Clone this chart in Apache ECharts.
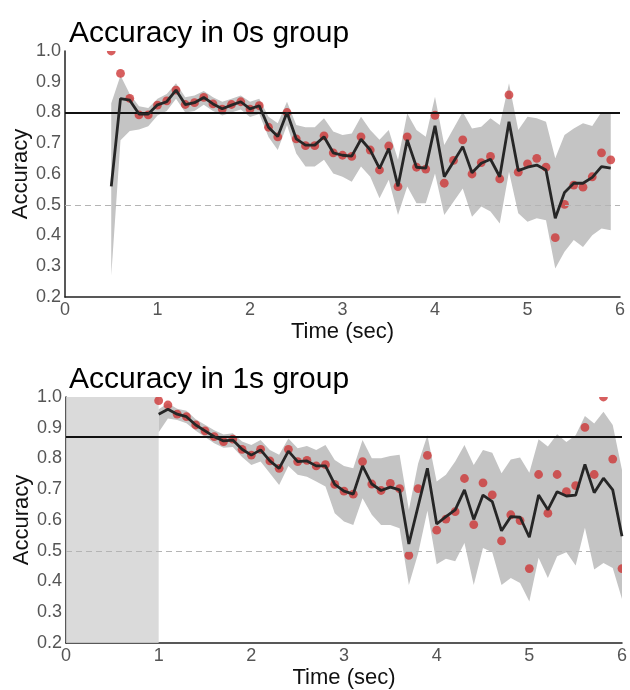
<!DOCTYPE html>
<html>
<head>
<meta charset="utf-8">
<script src="https://cdn.jsdelivr.net/npm/echarts@6/dist/echarts.min.js"></script>
<style>
html,body{margin:0;padding:0;background:#fff;}
#chart{width:630px;height:690px;}
</style>
</head>
<body>
<div id="chart"></div>
<script>
// ---------- Data: 0s group ----------
var times0 = [0.5,0.6,0.7,0.8,0.9,
  1.0,1.1,1.2,1.3,1.4,1.5,1.6,1.7,1.8,1.9,
  2.0,2.1,2.2,2.3,2.4,2.5,2.6,2.7,2.8,2.9,
  3.0,3.1,3.2,3.3,3.4,3.5,3.6,3.7,3.8,3.9,
  4.0,4.1,4.2,4.3,4.4,4.5,4.6,4.7,4.8,4.9,
  5.0,5.1,5.2,5.3,5.4,5.5,5.6,5.7,5.8,5.9];
var model0 = [0.56,0.845,0.84,0.795,0.795,
  0.825,0.835,0.873,0.826,0.832,0.849,0.828,0.812,0.824,0.835,
  0.812,0.822,0.752,0.722,0.80,0.714,0.694,0.694,0.721,0.669,
  0.661,0.658,0.713,0.678,0.618,0.683,0.56,0.711,0.622,0.619,
  0.757,0.591,0.64,0.689,0.604,0.635,0.648,0.591,0.770,0.611,
  0.622,0.629,0.613,0.456,0.54,0.57,0.57,0.589,0.624,0.619];
var observed0 = [1.0,0.927,0.846,0.792,0.792,
  0.824,0.838,0.873,0.826,0.832,0.849,0.828,0.811,0.826,0.835,
  0.811,0.822,0.752,0.721,0.80,0.714,0.692,0.692,0.724,0.669,
  0.661,0.657,0.721,0.678,0.613,0.691,0.559,0.721,0.622,0.616,
  0.791,0.570,0.644,0.711,0.600,0.637,0.657,0.584,0.857,0.606,
  0.633,0.651,0.622,0.393,0.501,0.564,0.557,0.591,0.669,0.646];
var lower0 = [0.27,0.71,0.74,0.745,0.755,
  0.79,0.805,0.845,0.80,0.805,0.825,0.805,0.79,0.80,0.81,
  0.785,0.795,0.72,0.678,0.759,0.667,0.624,0.624,0.646,0.602,
  0.591,0.575,0.624,0.591,0.521,0.581,0.467,0.559,0.505,0.505,
  0.602,0.467,0.510,0.553,0.461,0.494,0.478,0.439,0.607,0.472,
  0.445,0.456,0.450,0.293,0.347,0.385,0.363,0.401,0.423,0.417];
var upper0 = [0.83,0.92,0.86,0.82,0.815,
  0.845,0.86,0.895,0.85,0.855,0.87,0.85,0.835,0.845,0.855,
  0.835,0.845,0.786,0.765,0.835,0.759,0.752,0.752,0.781,0.738,
  0.727,0.732,0.786,0.743,0.711,0.743,0.646,0.797,0.743,0.721,
  0.851,0.694,0.748,0.802,0.748,0.754,0.781,0.759,0.895,0.743,
  0.786,0.781,0.770,0.651,0.727,0.748,0.765,0.756,0.802,0.797];
var reference0 = 0.8;

// ---------- Data: 1s group ----------
var times1 = [1.0,1.1,1.2,1.3,1.4,1.5,1.6,1.7,1.8,1.9,
  2.0,2.1,2.2,2.3,2.4,2.5,2.6,2.7,2.8,2.9,
  3.0,3.1,3.2,3.3,3.4,3.5,3.6,3.7,3.8,3.9,
  4.0,4.1,4.2,4.3,4.4,4.5,4.6,4.7,4.8,4.9,
  5.0,5.1,5.2,5.3,5.4,5.5,5.6,5.7,5.8,5.9,6.0];
var model1 = [0.944,0.96,0.944,0.936,0.909,0.89,0.871,0.857,0.86,0.83,
  0.811,0.828,0.792,0.768,0.824,0.79,0.792,0.776,0.776,0.716,
  0.694,0.684,0.776,0.717,0.696,0.707,0.698,0.522,0.645,0.768,
  0.587,0.611,0.633,0.698,0.602,0.681,0.660,0.565,0.611,0.609,
  0.544,0.681,0.633,0.692,0.678,0.681,0.781,0.689,0.736,0.698,0.547];
var observed1 = [0.988,0.974,0.944,0.936,0.909,0.89,0.871,0.855,0.863,0.83,
  0.811,0.83,0.792,0.768,0.83,0.79,0.794,0.776,0.78,0.716,
  0.694,0.684,0.79,0.717,0.696,0.719,0.702,0.485,0.702,0.81,
  0.567,0.603,0.627,0.735,0.585,0.721,0.682,0.532,0.617,0.598,
  0.442,0.748,0.622,0.748,0.692,0.712,0.901,0.748,1.0,0.798,0.442];
var lower1 = [0.885,0.93,0.925,0.915,0.89,0.87,0.85,0.835,0.837,0.805,
  0.779,0.79,0.752,0.714,0.776,0.747,0.741,0.725,0.709,0.622,
  0.595,0.584,0.671,0.617,0.584,0.584,0.573,0.389,0.491,0.63,
  0.456,0.474,0.466,0.525,0.389,0.509,0.495,0.389,0.411,0.395,
  0.335,0.477,0.411,0.482,0.495,0.452,0.575,0.439,0.460,0.444,0.343];
var upper1 = [0.96,0.98,0.962,0.955,0.928,0.91,0.892,0.878,0.882,0.855,
  0.844,0.86,0.828,0.812,0.865,0.833,0.841,0.828,0.844,0.795,
  0.776,0.768,0.86,0.801,0.801,0.808,0.812,0.633,0.784,0.876,
  0.725,0.747,0.79,0.844,0.779,0.828,0.819,0.752,0.797,0.803,
  0.754,0.863,0.839,0.879,0.854,0.876,0.938,0.914,0.952,0.909,0.763];
var reference1 = 0.868;
var chanceLevel = 0.5;
var delayEnd1 = 1.0;

var xTicks = [0,1,2,3,4,5,6];
var yTicks = [0.2,0.3,0.4,0.5,0.6,0.7,0.8,0.9,1.0];
var titles = ['Accuracy in 0s group','Accuracy in 1s group'];

// ---------- helpers ----------
function pairs(t, v){ return t.map(function(x,i){ return [x, v[i]]; }); }
function triples(t, lo, hi){ return t.map(function(x,i){ return [x, lo[i], hi[i]]; }); }

var FONT = '"Liberation Sans", Arial, sans-serif';
var BAND = '#c4c4c4';
var LINE = '#262626';
var DOT = 'rgba(205,55,55,0.8)';

function bandSeries(idx, t, lo, hi){
  return {
    type:'custom', xAxisIndex:idx, yAxisIndex:idx, z:1, silent:true,
    data: triples(t, lo, hi),
    encode:{x:0, y:[1,2]},
    renderItem: function(params, api){
      if (params.dataIndex !== 0) return null;
      var pts = [];
      for (var i=0;i<t.length;i++) pts.push(api.coord([t[i], hi[i]]));
      for (var j=t.length-1;j>=0;j--) pts.push(api.coord([t[j], lo[j]]));
      return {type:'polygon', shape:{points:pts}, style:{fill:BAND, stroke:null}};
    }
  };
}
function refSeries(idx, ref){
  return {
    type:'line', xAxisIndex:idx, yAxisIndex:idx, z:2, data:[], silent:true,
    markLine:{
      silent:true, symbol:['none','none'], label:{show:false},
      data:[
        {yAxis:ref, lineStyle:{color:'#111', width:2, type:'solid'}},
        {yAxis:chanceLevel, lineStyle:{color:'#b4b4b4', width:1, type:[6,4]}}
      ]
    }
  };
}
function dotSeries(idx, t, v){
  return {
    type:'custom', xAxisIndex:idx, yAxisIndex:idx, z:4, clip:true, silent:true,
    data: pairs(t, v),
    renderItem: function(params, api){
      var p = api.coord([api.value(0), api.value(1)]);
      return {type:'circle', shape:{cx:p[0], cy:p[1], r:4.4}, style:{fill:DOT}};
    }
  };
}
function lineSeries(idx, t, v){
  return {
    type:'line', xAxisIndex:idx, yAxisIndex:idx, z:5, silent:true,
    data: pairs(t, v), showSymbol:false, symbol:'none',
    lineStyle:{color:LINE, width:2.8}
  };
}
function xAxisCfg(idx){
  return {
    type:'value', gridIndex:idx, min:xTicks[0], max:xTicks[xTicks.length-1], interval:1,
    name:'Time (sec)', nameLocation:'middle', nameGap:24, nameMoveOverlap:false,
    nameTextStyle:{fontFamily:FONT, fontSize:22, color:'#111'},
    axisLine:{show:true, onZero:false, lineStyle:{color:'#222', width:1.5}},
    axisTick:{show:false}, splitLine:{show:false},
    axisLabel:{fontFamily:FONT, fontSize:18, color:'#555', margin:4}
  };
}
function yAxisCfg(idx){
  return {
    type:'value', gridIndex:idx, min:yTicks[0], max:yTicks[yTicks.length-1], interval:0.1,
    name:'Accuracy', nameLocation:'middle', nameGap:33, nameMoveOverlap:false,
    nameTextStyle:{fontFamily:FONT, fontSize:22, color:'#111'},
    axisLine:{show:true, onZero:false, lineStyle:{color:'#222', width:1.5}},
    axisTick:{show:false}, splitLine:{show:false},
    axisLabel:{fontFamily:FONT, fontSize:18, color:'#555', margin:4,
      formatter:function(v){ return v.toFixed(1); }}
  };
}

var option = {
  animation:false,
  backgroundColor:'#fff',
  title:[
    {text:titles[0], left:64, top:14, textStyle:{fontFamily:FONT, fontSize:30, fontWeight:'normal', color:'#000'}},
    {text:titles[1], left:64, top:360, textStyle:{fontFamily:FONT, fontSize:30, fontWeight:'normal', color:'#000'}}
  ],
  grid:[
    {left:65, right:10, top:51, height:246},
    {left:66, right:8, top:397, height:246}
  ],
  xAxis:[xAxisCfg(0), xAxisCfg(1)],
  yAxis:[yAxisCfg(0), yAxisCfg(1)],
  series:[
    bandSeries(0, times0, lower0, upper0),
    refSeries(0, reference0),
    dotSeries(0, times0, observed0),
    lineSeries(0, times0, model0),

    bandSeries(1, times1, lower1, upper1),
    refSeries(1, reference1),
    {
      type:'line', xAxisIndex:1, yAxisIndex:1, z:3, data:[], silent:true,
      markArea:{silent:true, itemStyle:{color:'rgba(212,212,212,0.85)'},
        data:[[{xAxis:xTicks[0]},{xAxis:delayEnd1}]]}
    },
    dotSeries(1, times1, observed1),
    lineSeries(1, times1, model1)
  ]
};
var chart = echarts.init(document.getElementById('chart'), null, {renderer:'canvas'});
chart.setOption(option);
</script>
</body>
</html>
